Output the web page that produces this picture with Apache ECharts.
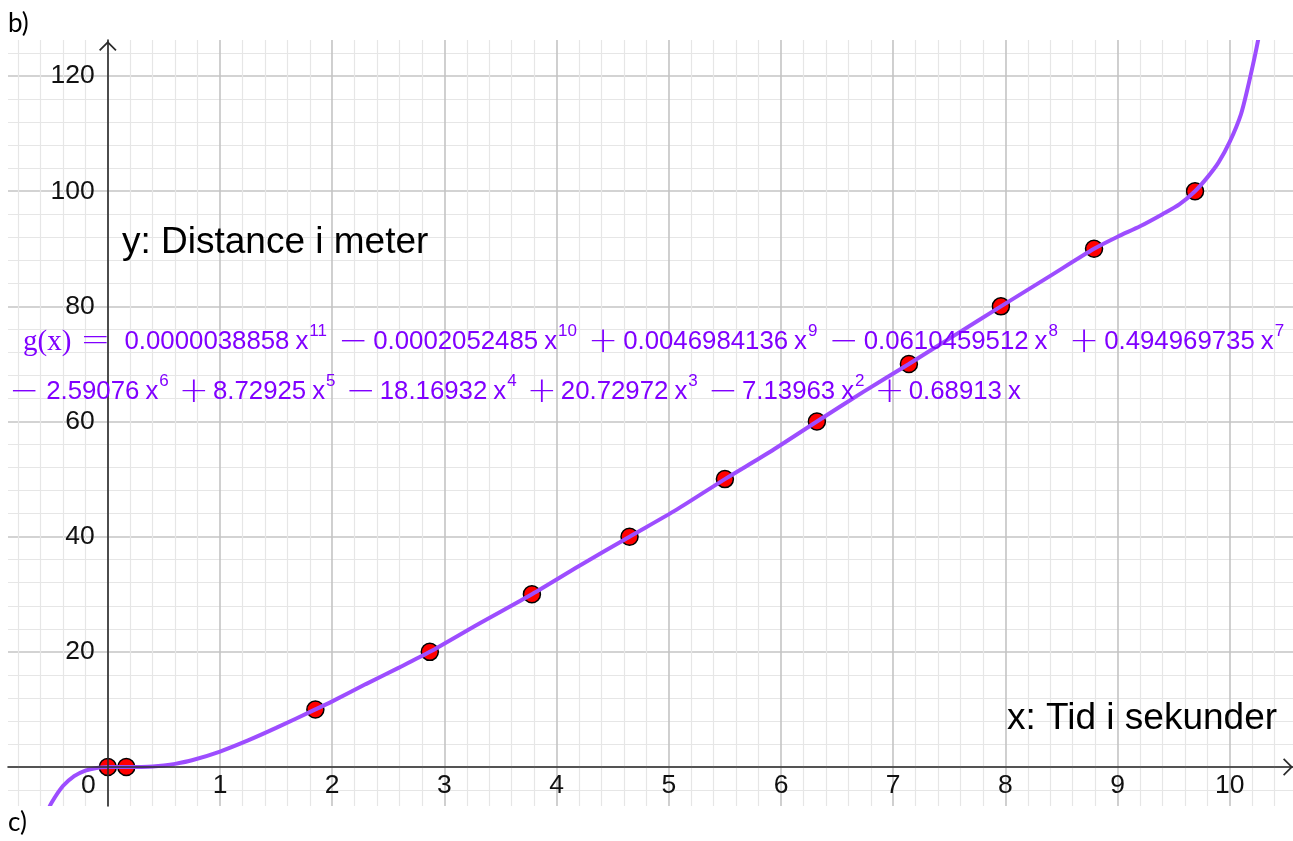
<!DOCTYPE html>
<html>
<head>
<meta charset="utf-8">
<script src="https://cdn.jsdelivr.net/npm/echarts@6/dist/echarts.min.js"></script>
<style>
html, body { margin: 0; padding: 0; background: #ffffff; }
#chart { width: 1293px; height: 841px; }
</style>
</head>
<body>
<div id="chart"></div>
<script>
// ---- data ----
const pointTime = [0, 0.165, 1.85, 2.87, 3.78, 4.65, 5.50, 6.32, 7.14, 7.96, 8.79, 9.69];
const pointDist = [0, 0, 10, 20, 30, 40, 50, 60, 70, 80, 90, 100];

const curveTime = [-0.55, -0.5, -0.4, -0.3, -0.2, -0.1, 0, 0.1, 0.2, 0.3, 0.4, 0.5, 0.6, 0.75, 1.0, 1.25, 1.5, 1.85, 2.0, 2.3, 2.6, 2.87, 3.3, 3.78, 4.2, 4.65, 5.07, 5.5, 5.9, 6.32, 6.73, 7.14, 7.55, 7.96, 8.4, 8.79, 9.0, 9.2, 9.4, 9.55, 9.69, 9.8, 9.9, 10.0, 10.1, 10.17, 10.25, 10.3];
const curveDist = [-8.17, -6.17, -3.31, -1.58, -0.62, -0.16, 0, 0.02, -0.01, 0.0, 0.07, 0.25, 0.54, 1.17, 2.69, 4.62, 6.79, 10, 11.4, 14.4, 17.3, 20, 24.8, 30, 34.9, 40, 44.7, 50, 54.7, 60, 65.1, 70, 75.0, 80, 85.3, 90, 92.1, 93.9, 96.0, 97.7, 100, 102.4, 105.0, 108.6, 113.4, 118.8, 126.0, 132];

const xTickLabels = ['1', '2', '3', '4', '5', '6', '7', '8', '9', '10'];
const yTickLabels = ['20', '40', '60', '80', '100', '120'];

// formula terms: [sign, coefficient, exponent]
const formulaLine1 = [['', '0.0000038858', '11'], ['−', '0.0002052485', '10'], ['+', '0.0046984136', '9'], ['−', '0.0610459512', '8'], ['+', '0.494969735', '7']];
const formulaLine2 = [['−', '2.59076', '6'], ['+', '8.72925', '5'], ['−', '18.16932', '4'], ['+', '20.72972', '3'], ['−', '7.13963', '2'], ['+', '0.68913', '']];

// ---- layout (pixels) ----
const X0 = 107.8, UX = 112.2, Y0 = 767, UY = 5.758;
const W = 1293, H = 841;
const PL = 8, PT = 40, PB = 806;
// extended grid used for the gridlines / tick labels (x: -1..11, y: -20..140)
const G0L = X0 - UX, G0T = Y0 - 140 * UY, G0W = 12 * UX, G0H = 160 * UY;

const FN = '"Liberation Sans", Arial, sans-serif';
const TXT = '#8000ff';
const CURVE = '#9d4dff';
const LBL = 26.5;

function buildLine(terms, first, opName) {
  let s = first;
  terms.forEach(function (t, i) {
    if (t[0]) s += (i === 0 && !first ? '{op0|' : '{' + opName + '|') + t[0] + '}';
    s += '{n|' + t[1] + '}{x|x}';
    if (t[2]) s += '{s|' + t[2] + '}';
  });
  return s;
}
const OPF = '"DejaVu Sans", sans-serif';
const richFormula = {
  g: { fontFamily: '"Liberation Serif", serif', fontSize: 29, fill: TXT, verticalAlign: 'middle' },
  eq: { fontFamily: OPF, fontWeight: 200, fontSize: 36, fill: TXT, padding: [0, 14, 0, 9], verticalAlign: 'middle' },
  n: { fontFamily: FN, fontSize: 25.8, fill: TXT, verticalAlign: 'middle' },
  x: { fontFamily: FN, fontSize: 25.8, fill: TXT, padding: [0, 1, 0, 6], verticalAlign: 'middle' },
  s: { fontFamily: FN, fontSize: 17, fill: TXT, padding: [0, 0, 22, 0], verticalAlign: 'middle' },
  op: { fontFamily: OPF, fontWeight: 200, fontSize: 36, fill: TXT, padding: [2, 5, 0, 11], verticalAlign: 'middle' },
  op2: { fontFamily: OPF, fontWeight: 200, fontSize: 36, fill: TXT, padding: [2, 4, 0, 10], verticalAlign: 'middle' },
  op0: { fontFamily: OPF, fontWeight: 200, fontSize: 36, fill: TXT, padding: [2, 7, 0, 0], verticalAlign: 'middle' }
};

const chevron = 'path://M0,10 L10,0 L20,10 L18.6,11.4 L10,2.8 L1.4,11.4 Z';

const chart = echarts.init(document.getElementById('chart'), null, { renderer: 'canvas', width: W, height: H });

const option = {
  backgroundColor: '#ffffff',
  animation: false,
  grid: [
    { left: G0L, top: G0T, width: G0W, height: G0H, containLabel: false, outerBoundsMode: 'none' },
    { left: PL, top: PT, width: W - PL, height: PB - PT, containLabel: false, outerBoundsMode: 'none' }
  ],
  xAxis: [
    {
      gridIndex: 0, type: 'value', min: -1, max: 11, interval: 1,
      position: 'bottom', offset: -(G0T + G0H - Y0),
      axisLine: { show: false, onZero: false },
      axisTick: { show: false },
      minorTick: { show: false, splitNumber: 5 },
      splitLine: { show: true, lineStyle: { color: '#c4c4c4', width: 1.6 } },
      minorSplitLine: { show: true, lineStyle: { color: '#e6e6e6', width: 1.2 } },
      axisLabel: {
        show: true, margin: 5, fontSize: LBL, fontFamily: FN, color: '#111',
        formatter: function (v) {
          if (v === 0) return '{z|0}';
          return xTickLabels.indexOf(String(v)) >= 0 ? String(v) : '';
        },
        rich: { z: { fontSize: LBL, fontFamily: FN, color: '#111', padding: [0, 39, 0, 0] } }
      },
      z: 0
    },
    {
      gridIndex: 1, type: 'value',
      min: (PL - X0) / UX, max: (W - X0) / UX,
      axisLine: { show: true, onZero: true, symbol: ['none', chevron], symbolSize: [19, 10], symbolOffset: [0, -5],
        lineStyle: { color: '#2b2b2b', width: 1.6 } },
      axisTick: { show: false }, axisLabel: { show: false }, splitLine: { show: false },
      z: 10
    }
  ],
  yAxis: [
    {
      gridIndex: 0, type: 'value', min: -20, max: 140, interval: 20,
      position: 'left', offset: -(X0 - G0L),
      axisLine: { show: false, onZero: false },
      axisTick: { show: false },
      minorTick: { show: false, splitNumber: 5 },
      splitLine: { show: true, lineStyle: { color: '#c4c4c4', width: 1.6 } },
      minorSplitLine: { show: true, lineStyle: { color: '#e6e6e6', width: 1.2 } },
      axisLabel: {
        show: true, margin: 13, fontSize: LBL, fontFamily: FN, color: '#111', padding: [4, 0, 0, 0],
        formatter: function (v) { return yTickLabels.indexOf(String(v)) >= 0 ? String(v) : ''; }
      },
      z: 0
    },
    {
      gridIndex: 1, type: 'value',
      min: (Y0 - PB) / UY, max: (Y0 - PT) / UY,
      axisLine: { show: true, onZero: true, symbol: ['none', chevron], symbolSize: [19, 10], symbolOffset: [0, -6],
        lineStyle: { color: '#2b2b2b', width: 1.6 } },
      axisTick: { show: false }, axisLabel: { show: false }, splitLine: { show: false },
      z: 10
    }
  ],
  series: [
    {
      name: 'Målinger', type: 'scatter', xAxisIndex: 1, yAxisIndex: 1,
      data: pointTime.map(function (t, i) { return [t, pointDist[i]]; }),
      symbol: 'circle', symbolSize: 17,
      itemStyle: { color: '#ff0000', borderColor: '#000000', borderWidth: 1.5, opacity: 1 },
      z: 3
    },
    {
      name: 'g', type: 'line', xAxisIndex: 1, yAxisIndex: 1,
      data: curveTime.map(function (t, i) { return [t, curveDist[i]]; }),
      showSymbol: false, smooth: 0.25, clip: true,
      lineStyle: { color: CURVE, width: 4 },
      z: 4
    }
  ],
  graphic: [
    { type: 'rect', z: 5, shape: { x: 0, y: 0, width: W, height: PT }, style: { fill: '#ffffff' } },
    { type: 'rect', z: 5, shape: { x: 0, y: PB, width: W, height: H - PB }, style: { fill: '#ffffff' } },
    { type: 'rect', z: 5, shape: { x: 0, y: 0, width: PL, height: H }, style: { fill: '#ffffff' } },
    { type: 'text', z: 20, x: 8, y: 24, style: { text: 'b)', font: '26px Lato, "Liberation Sans", sans-serif', fill: '#000', verticalAlign: 'middle' } },
    { type: 'text', z: 20, x: 8, y: 823, style: { text: 'c)', font: '26px Lato, "Liberation Sans", sans-serif', fill: '#000', verticalAlign: 'middle' } },
    { type: 'text', z: 20, x: 122, y: 243, style: { text: 'y: Distance i meter', font: '37px "Liberation Sans", Arial, sans-serif', fill: '#000', verticalAlign: 'middle' } },
    { type: 'text', z: 20, x: 1007, y: 719, style: { text: 'x: Tid i sekunder', font: '37px "Liberation Sans", Arial, sans-serif', fill: '#000', verticalAlign: 'middle' } },
    { type: 'text', z: 20, x: 23, y: 342, style: { text: buildLine(formulaLine1, '{g|g(x)}{eq|=}', 'op'), rich: richFormula, verticalAlign: 'middle', align: 'left' } },
    { type: 'text', z: 20, x: 9, y: 392, style: { text: buildLine(formulaLine2, '', 'op2'), rich: richFormula, verticalAlign: 'middle', align: 'left' } }
  ]
};
chart.setOption(option);
</script>
</body>
</html>
